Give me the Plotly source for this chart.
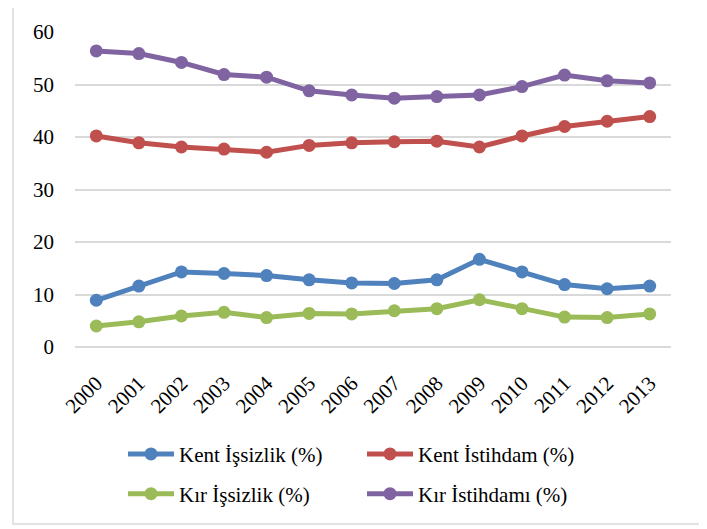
import plotly.graph_objects as go

years = [str(y) for y in range(2000, 2014)]
kent_issizlik = [8.9, 11.6, 14.3, 14.0, 13.6, 12.8, 12.2, 12.1, 12.8, 16.7, 14.3, 11.9, 11.1, 11.6]
kent_istihdam = [40.2, 38.9, 38.1, 37.7, 37.1, 38.4, 38.9, 39.1, 39.2, 38.1, 40.2, 42.0, 43.0, 43.9]
kir_issizlik = [4.0, 4.8, 5.9, 6.6, 5.6, 6.4, 6.3, 6.9, 7.3, 9.0, 7.3, 5.7, 5.6, 6.3]
kir_istihdam = [56.4, 55.9, 54.2, 51.9, 51.4, 48.8, 48.0, 47.4, 47.7, 48.0, 49.6, 51.8, 50.7, 50.3]

names = ["Kent İşsizlik (%)", "Kent İstihdam (%)", "Kır İşsizlik (%)", "Kır İstihdamı (%)"]
colors = ["#4F81BD", "#C0504D", "#9BBB59", "#8064A2"]
series = [kent_issizlik, kent_istihdam, kir_issizlik, kir_istihdam]
legend_ids = ["legend", "legend", "legend2", "legend2"]
y_ticks = [0, 10, 20, 30, 40, 50, 60]

FONT = "Liberation Serif"
FS = 21
fig = go.Figure()
for name, col, vals, lg in zip(names, colors, series, legend_ids):
    fig.add_trace(go.Scatter(
        x=years, y=vals, name=name, mode="lines+markers",
        line=dict(color=col, width=5),
        marker=dict(color=col, size=13),
        legend=lg, cliponaxis=False,
    ))

# page body has an 8px margin, so work in reference pixels minus 8
OFF = 8
W, H = 707 - OFF, 529 - OFF
L = 75 - OFF
T = 30 - OFF
R = W - (671 - OFF)
B = H - (347 - OFF)
pw, ph = W - L - R, H - T - B

def px_x(px):
    return (px - OFF - L) / pw

def px_y(py):
    return (H - B - (py - OFF)) / ph

legend_common = dict(
    orientation="h", xanchor="left", yanchor="middle",
    font=dict(family=FONT, size=FS, color="#000000"),
    entrywidth=178, itemwidth=46, bgcolor="rgba(0,0,0,0)",
    traceorder="normal",
)

fig.update_layout(
    width=W, height=H,
    margin=dict(l=L, r=R, t=T, b=B),
    paper_bgcolor="white", plot_bgcolor="white",
    font=dict(family=FONT, size=FS, color="#000000"),
    showlegend=True,
    legend=dict(x=px_x(123), y=px_y(455), **legend_common),
    legend2=dict(x=px_x(123), y=px_y(495), **legend_common),
    xaxis=dict(
        type="category", range=[-0.5, 13.5], tickangle=-45,
        showgrid=False, showline=False, zeroline=False, ticks="",
        tickfont=dict(family=FONT, size=FS, color="#000000"),
        ticklabelstandoff=19,
    ),
    yaxis=dict(
        range=[0, 60], tickvals=y_ticks,
        showgrid=True, gridcolor="#D9D9D9", gridwidth=1.5,
        zeroline=True, zerolinecolor="#D9D9D9", zerolinewidth=1.5,
        showline=False, ticks="",
        tickfont=dict(family=FONT, size=FS, color="#000000"),
        ticklabelstandoff=20,
    ),
    shapes=[dict(
        type="rect", xref="paper", yref="paper",
        x0=px_x(13), x1=px_x(700), y0=px_y(525), y1=px_y(2),
        line=dict(color="#D9D9D9", width=1.5), fillcolor="rgba(0,0,0,0)",
        layer="below",
    )],
)

fig.write_html("out.html")
